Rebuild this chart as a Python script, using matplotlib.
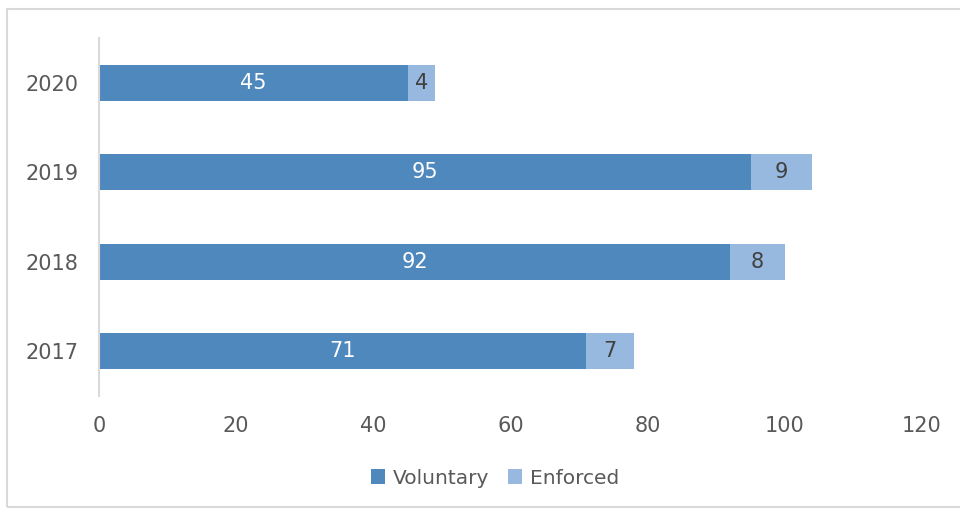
import matplotlib.pyplot as plt
from matplotlib.patches import Rectangle

years = ['2017', '2018', '2019', '2020']
voluntary = [71, 92, 95, 45]
enforced = [7, 8, 9, 4]

vol_color = '#4F88BD'
enf_color = '#97B9E0'
text_color = '#595959'

plt.rcParams['font.family'] = ['DejaVu Sans']

fig = plt.figure(figsize=(9.6, 5.09), dpi=100)
# light frame around the chart area
fig.patches.append(Rectangle((7 / 960, 1 - 507 / 509), 1.0, (507 - 9) / 509,
                             transform=fig.transFigure, fill=False,
                             edgecolor='#D9D9D9', linewidth=1.5))

ax = fig.add_axes([99 / 960, 1 - 395.6 / 509, 823 / 960, (395.6 - 38.4) / 509])
pos = range(len(years))
b1 = ax.barh(pos, voluntary, height=0.4, color=vol_color, label='Voluntary')
b2 = ax.barh(pos, enforced, left=voluntary, height=0.4, color=enf_color, label='Enforced')

ax.bar_label(b1, labels=[str(v) for v in voluntary], label_type='center',
             color='white', fontsize=15)
ax.bar_label(b2, labels=[str(v) for v in enforced], label_type='center',
             color='#404040', fontsize=15)

ax.set_xlim(0, 120)
ax.set_ylim(-0.5, len(years) - 0.5)
ax.set_xticks(range(0, 121, 20))
ax.set_yticks(list(pos))
ax.set_yticklabels(years)
ax.tick_params(length=0, labelsize=15, labelcolor=text_color)
ax.tick_params(axis='x', pad=15)
ax.tick_params(axis='y', pad=15)
for side in ['top', 'right', 'bottom']:
    ax.spines[side].set_visible(False)
ax.spines['left'].set_color('#D9D9D9')
ax.spines['left'].set_linewidth(1.5)

fig.legend(loc='center', bbox_to_anchor=(495 / 960, 1 - 478 / 509), ncol=2,
           frameon=False, fontsize=14.5, labelcolor=text_color,
           handlelength=0.7, handleheight=0.7, handletextpad=0.4, columnspacing=0.9)

fig.savefig('out.png', dpi=100)
